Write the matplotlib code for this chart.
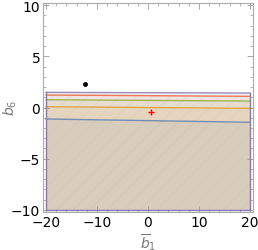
import matplotlib
matplotlib.use("Agg")
import matplotlib.pyplot as plt
from matplotlib.ticker import MultipleLocator
import numpy as np

# data
x_ends = [-20, 20]
y_bottom = -10
purple_top = [1.48, 1.41]
red_top = [1.22, 1.09]
green_top = [0.76, 0.63]
orange_top = [0.08, -0.08]
blue_top = [-1.12, -1.44]
black_pt = (-12.3, 2.3)
red_pt = (0.6, -0.4)

regions = [
    (purple_top, "#8778B3"),
    (red_top, "#EB6235"),
    (green_top, "#8FB032"),
    (orange_top, "#E19C24"),
    (blue_top, "#5E81B5"),
]

plt.rcParams["hatch.linewidth"] = 0.5
fig = plt.figure(figsize=(2.58, 2.51), dpi=100)
ax = fig.add_axes([43/258, 38/251, 210/258, 209.5/251])

for top, c in regions:
    ax.fill_between(x_ends, [y_bottom]*2, top, color=c, alpha=0.10, lw=0)
for top, c in regions:
    ax.plot(x_ends, top, color=c, lw=1.0, alpha=0.85)

# purple region border
ax.plot([x_ends[0], x_ends[0], x_ends[1], x_ends[1]],
        [purple_top[0], y_bottom, y_bottom, purple_top[1]], color="#8778B3", lw=1.0)

# faint mesh
ax.fill_between(x_ends, [y_bottom]*2, purple_top, facecolor="none",
                edgecolor=(0.5, 0.45, 0.4, 0.07), hatch="//", lw=0)

ax.plot(*black_pt, "o", color="black", ms=2.5)
ax.plot(*red_pt, "+", color="red", ms=4, mew=1.0)

ax.set_xlim(-20.6, 20.6)
ax.set_ylim(-10.2, 10.25)
ax.set_xticks([-20, -10, 0, 10, 20])
ax.set_yticks([-10, -5, 0, 5, 10])
ax.xaxis.set_minor_locator(MultipleLocator(2))
ax.yaxis.set_minor_locator(MultipleLocator(1))
ax.tick_params(which="both", direction="in", top=True, right=True, color="#999999",
               labelsize=10, labelcolor="black", pad=2)
ax.tick_params(which="major", length=4, width=0.6)
ax.tick_params(which="minor", length=2, width=0.5)
for s in ax.spines.values():
    s.set_color("#aaaaaa")
    s.set_linewidth(0.8)

ax.set_xlabel(r"$\overline{b}_1$", color="#777777", fontsize=10, labelpad=0)
ax.set_ylabel(r"$\overline{b}_6$", color="#777777", fontsize=10, labelpad=0)
ax.xaxis.set_label_coords(0.5, -0.09)
ax.yaxis.set_label_coords(-0.115, 0.5)

fig.savefig("out.png", dpi=100)
